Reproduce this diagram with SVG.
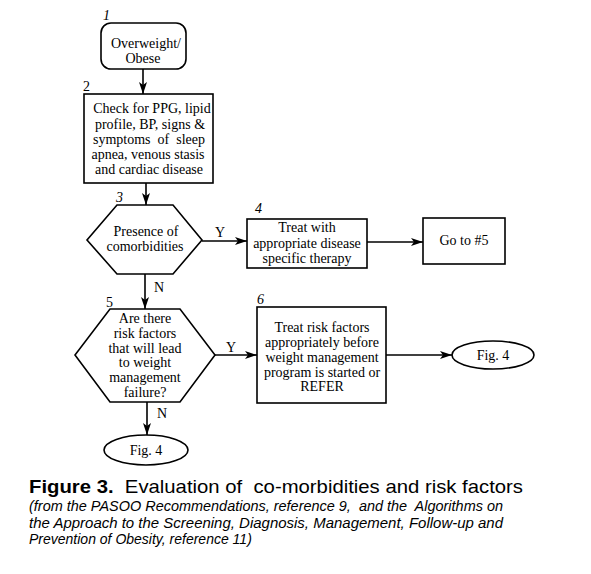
<svg xmlns="http://www.w3.org/2000/svg" width="591" height="574" viewBox="0 0 591 574">
<style>
.s{fill:#fff;stroke:#000;stroke-width:1.6}
.t{font-family:"Liberation Serif","Times New Roman",serif;font-size:14px;text-anchor:middle;fill:#000}
.n{font-family:"Liberation Serif","Times New Roman",serif;font-size:14px;fill:#000}
.i{font-style:italic}
.c{stroke:#000;stroke-width:1.6;fill:none;marker-end:url(#a)}
.cap{font-family:"Liberation Sans",Arial,sans-serif;fill:#000}
</style>
<defs>
<marker id="a" markerWidth="12" markerHeight="8" refX="12" refY="4" orient="auto" markerUnits="userSpaceOnUse">
<path d="M0,0 L12,4 L0,8 L3,4 Z" fill="#000"/>
</marker>
</defs>
<rect width="591" height="574" fill="#fff"/>
<g id="connectors">
<line class="c" x1="143" y1="69" x2="143" y2="94"/>
<line class="c" x1="146" y1="183" x2="146" y2="205"/>
<line class="c" x1="202" y1="241" x2="247" y2="241"/>
<line class="c" x1="367" y1="242" x2="423" y2="242"/>
<line class="c" x1="145" y1="274" x2="145" y2="309"/>
<line class="c" x1="215" y1="355" x2="257" y2="355"/>
<line class="c" x1="386" y1="355" x2="452" y2="355"/>
<line class="c" x1="147" y1="402" x2="147" y2="435"/>
<text class="n" x="215" y="237">Y</text>
<text class="n" x="154" y="292">N</text>
<text class="n" x="226" y="352">Y</text>
<text class="n" x="157" y="418">N</text>
</g>
<g id="node1">
<text class="n i" x="103" y="20">1</text>
<rect class="s" x="101" y="23" width="85" height="46" rx="10"/>
<text class="t" x="146" y="48">Overweight/</text>
<text class="t" x="143" y="63">Obese</text>
</g>
<g id="node2">
<text class="n" x="83" y="91">2</text>
<rect class="s" x="84" y="94" width="129" height="89"/>
<text class="t" x="152" y="113">Check for PPG, lipid</text>
<text class="t" x="150" y="129">profile, BP, signs &amp;</text>
<text class="t" x="149" y="144" xml:space="preserve">symptoms  of  sleep</text>
<text class="t" x="148" y="159">apnea, venous stasis</text>
<text class="t" x="149" y="174">and cardiac disease</text>
</g>
<g id="node3">
<text class="n i" x="116" y="202">3</text>
<polygon class="s" points="117,205 173,205 202,240 173,274 117,274 87,240"/>
<text class="t" x="146" y="236">Presence of</text>
<text class="t" x="145" y="251">comorbidities</text>
</g>
<g id="node4">
<text class="n i" x="255" y="213">4</text>
<rect class="s" x="247" y="219" width="120" height="49"/>
<text class="t" x="307" y="232">Treat with</text>
<text class="t" x="307" y="248">appropriate disease</text>
<text class="t" x="307" y="263">specific therapy</text>
</g>
<g id="node4b">
<rect class="s" x="423" y="218" width="82" height="46"/>
<text class="t" x="464" y="245">Go to #5</text>
</g>
<g id="node5">
<text class="n" x="106" y="307">5</text>
<polygon class="s" points="110,309 180,309 215,355 180,402 110,402 75,355"/>
<text class="t" x="145" y="323">Are there</text>
<text class="t" x="145" y="338">risk factors</text>
<text class="t" x="145" y="353">that will lead</text>
<text class="t" x="145" y="367">to weight</text>
<text class="t" x="145" y="382">management</text>
<text class="t" x="145" y="397">failure?</text>
</g>
<g id="node6">
<text class="n i" x="257" y="304">6</text>
<rect class="s" x="257" y="307" width="129" height="96"/>
<text class="t" x="322" y="332">Treat risk factors</text>
<text class="t" x="322" y="347">appropriately before</text>
<text class="t" x="322" y="362">weight management</text>
<text class="t" x="322" y="377">program is started or</text>
<text class="t" x="322" y="391">REFER</text>
</g>
<g id="node7">
<ellipse class="s" cx="493" cy="355" rx="41" ry="14"/>
<text class="t" x="493" y="360">Fig. 4</text>
</g>
<g id="node8">
<ellipse class="s" cx="146" cy="450" rx="42" ry="15"/>
<text class="t" x="146" y="455">Fig. 4</text>
</g>
<g id="caption">
<text class="cap" x="29" y="493" font-size="18.5" xml:space="preserve" textLength="494" lengthAdjust="spacingAndGlyphs"><tspan font-weight="bold">Figure 3.</tspan>  Evaluation of  co-morbidities and risk factors</text>
<text class="cap" x="29" y="511" font-size="14" font-style="italic" xml:space="preserve" textLength="474" lengthAdjust="spacingAndGlyphs">(from the PASOO Recommendations, reference 9,  and the  Algorithms on</text>
<text class="cap" x="29" y="528" font-size="14" font-style="italic" textLength="474" lengthAdjust="spacingAndGlyphs">the Approach to the Screening, Diagnosis, Management, Follow-up and</text>
<text class="cap" x="29" y="544" font-size="14" font-style="italic">Prevention of Obesity, reference 11)</text>
</g>
</svg>
